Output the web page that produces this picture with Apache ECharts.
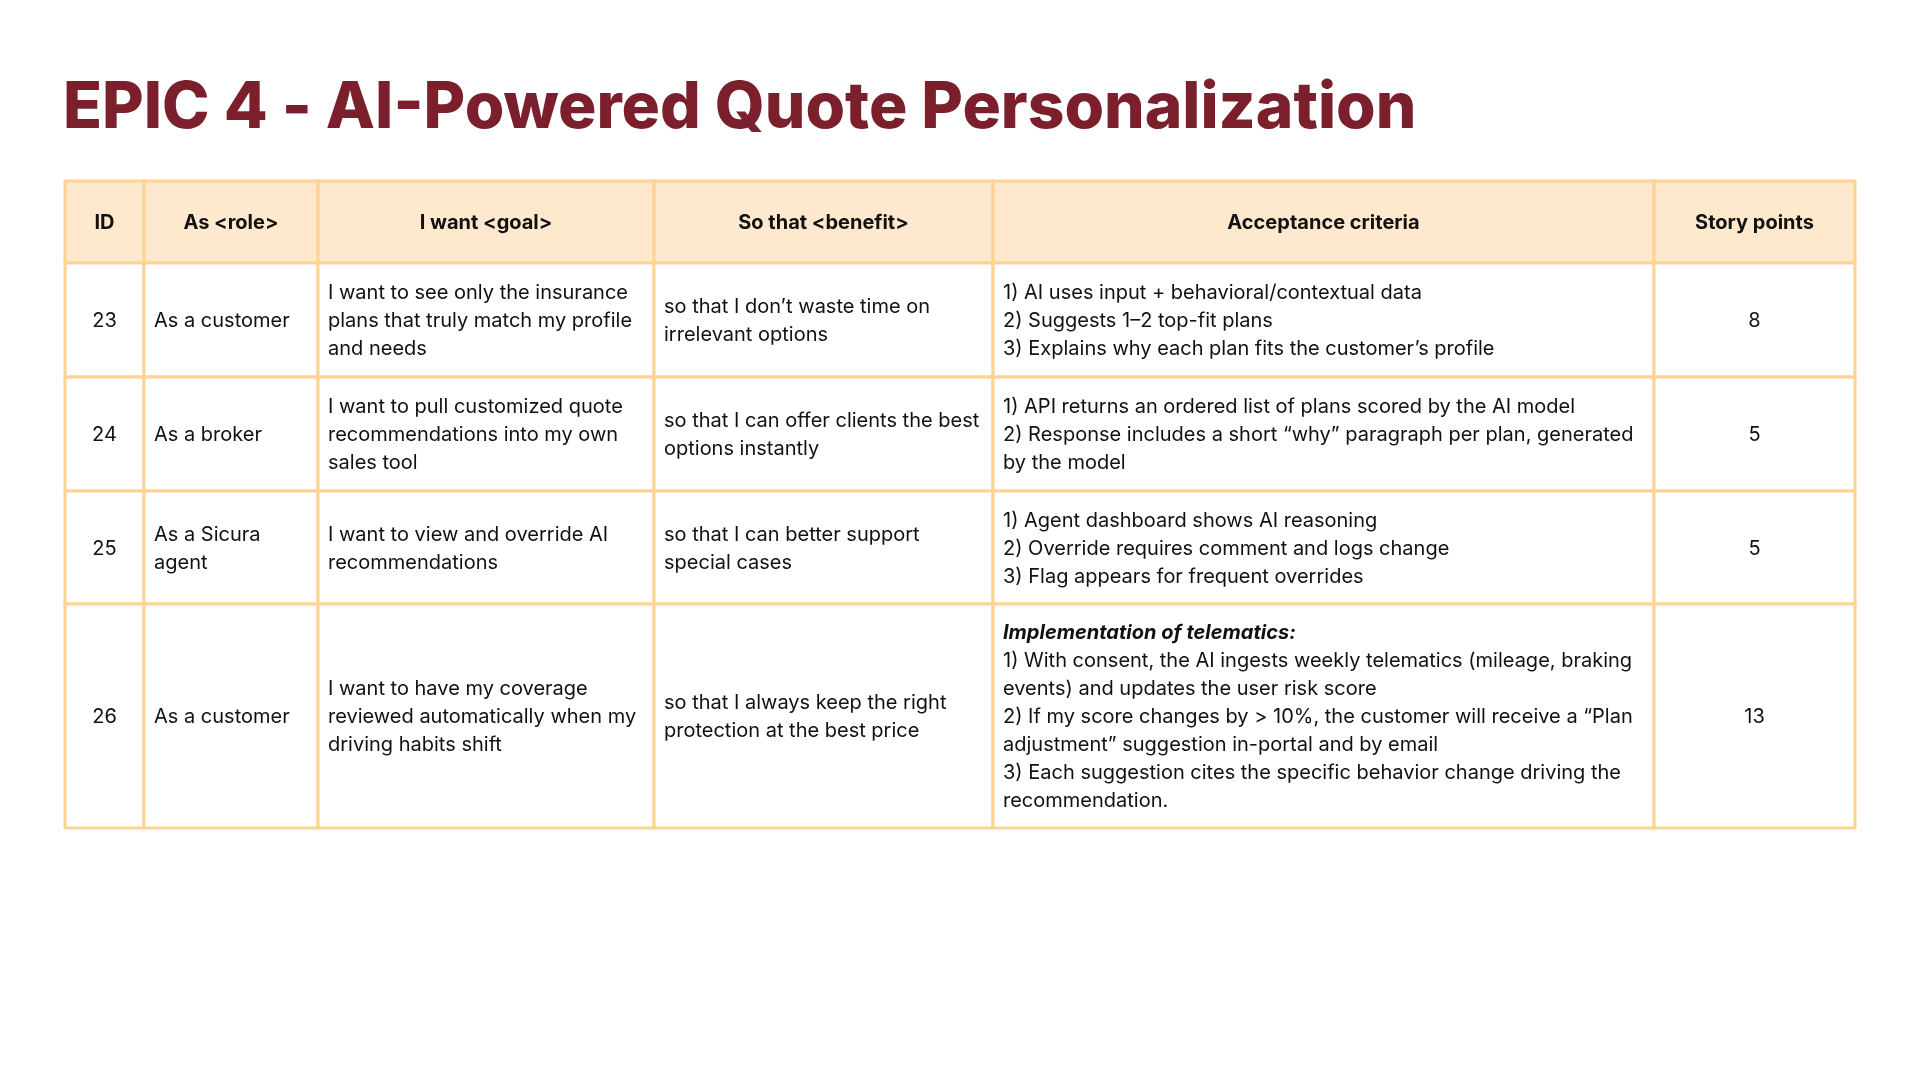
<!DOCTYPE html>
<html><head><meta charset="utf-8">
<script src="https://cdn.jsdelivr.net/npm/echarts@6/dist/echarts.min.js"></script>
<style>html,body{margin:0;background:#fff}#main{width:1920px;height:1080px}</style>
</head><body><div id="main"></div>
<script>
var title = 'EPIC 4 - AI-Powered Quote Personalization';
var headers = ['ID', 'As <role>', 'I want <goal>', 'So that <benefit>', 'Acceptance criteria', 'Story points'];
var ids = ['23', '24', '25', '26'];
var roles = ['As a customer', 'As a broker', 'As a Sicura\nagent', 'As a customer'];
var goals = [
    'I want to see only the insurance\nplans that truly match my profile\nand needs',
    'I want to pull customized quote\nrecommendations into my own\nsales tool',
    'I want to view and override AI\nrecommendations',
    'I want to have my coverage\nreviewed automatically when my\ndriving habits shift'
];
var benefits = [
    'so that I don\u2019t waste time on\nirrelevant options',
    'so that I can offer clients the best\noptions instantly',
    'so that I can better support\nspecial cases',
    'so that I always keep the right\nprotection at the best price'
];
var criteria = [
    '1) AI uses input + behavioral/contextual data\n2) Suggests 1\u20132 top-fit plans\n3) Explains why each plan fits the customer\u2019s profile',
    '1) API returns an ordered list of plans scored by the AI model\n2) Response includes a short \u201cwhy\u201d paragraph per plan, generated\nby the model',
    '1) Agent dashboard shows AI reasoning\n2) Override requires comment and logs change\n3) Flag appears for frequent overrides',
    '{i|Implementation of telematics:}\n1) With consent, the AI ingests weekly telematics (mileage, braking\nevents) and updates the user risk score\n2) If my score changes by > 10%, the customer will receive a \u201cPlan\nadjustment\u201d suggestion in-portal and by email\n3) Each suggestion cites the specific behavior change driving the\nrecommendation.'
];
var points = ['8', '5', '5', '13'];

var colX = [65, 144, 318, 654, 993, 1654, 1855];
var rowY = [181, 263, 377, 491, 604, 828];
var centered = [true, false, false, false, false, true];
var border = '#fdd391', headFill = '#fee9cf';
var font = 'Inter, "Noto Sans", sans-serif';

var els = [{
    type: 'text', style: { text: title, x: 63, y: 109, verticalAlign: 'middle',
        font: '800 64px ' + font, fill: '#7a1f2b' }
}];
var rows = [headers];
for (var r = 0; r < ids.length; r++) rows.push([ids[r], roles[r], goals[r], benefits[r], criteria[r], points[r]]);

rows.forEach(function (row, r) {
    row.forEach(function (txt, c) {
        var x0 = colX[c], x1 = colX[c + 1], y0 = rowY[r], y1 = rowY[r + 1];
        els.push({ type: 'rect', shape: { x: x0, y: y0, width: x1 - x0, height: y1 - y0 },
            style: { fill: r === 0 ? headFill : '#fff', stroke: border, lineWidth: 3 } });
        els.push({ type: 'text', z: 10, style: {
            text: txt, x: centered[c] || r === 0 ? (x0 + x1) / 2 : x0 + 10, y: (y0 + y1) / 2 + 1,
            align: centered[c] || r === 0 ? 'center' : 'left', verticalAlign: 'middle',
            font: (r === 0 ? 'bold ' : '') + '20px ' + font, fill: '#111', lineHeight: 28,
            rich: { i: { fontStyle: 'italic', fontWeight: 'bold', fontSize: 20, fontFamily: font, lineHeight: 28, fill: '#111' } }
        } });
    });
});

var chart = echarts.init(document.getElementById('main'));
chart.setOption({ graphic: { elements: els } });
</script></body></html>
